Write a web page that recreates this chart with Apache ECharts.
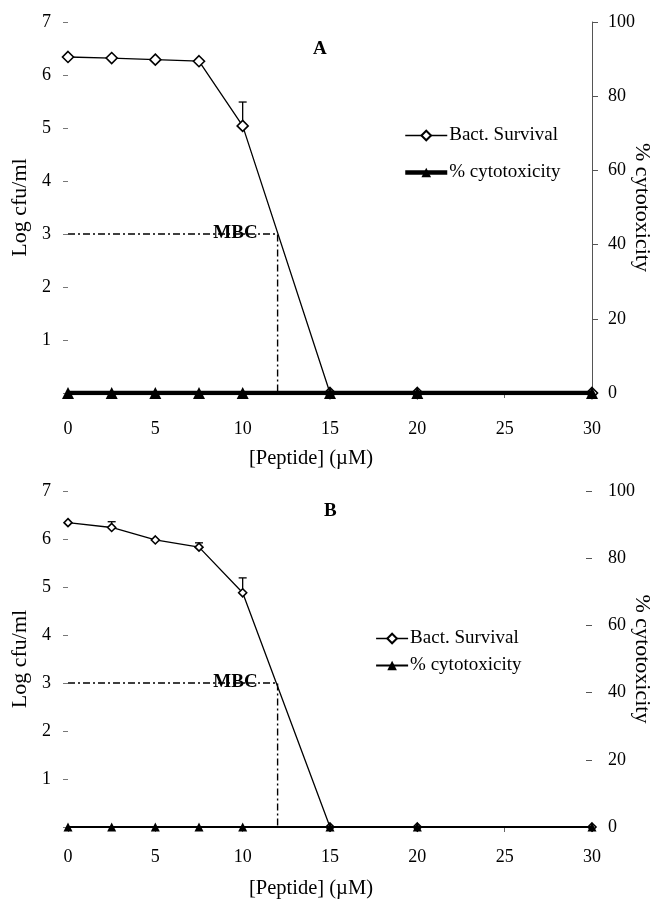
<!DOCTYPE html>
<html>
<head>
<meta charset="utf-8">
<script src="https://cdn.jsdelivr.net/npm/echarts@6/dist/echarts.min.js"></script>
<style>
html,body{margin:0;padding:0;background:#fff;}
#a{position:absolute;left:0;top:0;width:653px;height:470px;}
#b{position:absolute;left:0;top:470px;width:653px;height:429px;}
</style>
</head>
<body>
<div id="a"></div>
<div id="b"></div>
<script>
// Shared x values: peptide concentration (µM)
var concA = [0, 2.5, 5, 7.5, 10, 15, 20, 30];
var concB = [0, 2.5, 5, 7.5, 10, 15, 20, 30];
// Panel A: bacterial survival (log cfu/ml) and cytotoxicity (%)
var survivalA = [6.34, 6.32, 6.29, 6.26, 5.04, 0, 0, 0];
var survivalErrA = [0, 0, 0, 0, 0.45, 0, 0, 0];
var cytoA = [0, 0, 0, 0, 0, 0, 0, 0];
// Panel B
var survivalB = [6.34, 6.24, 5.98, 5.83, 4.88, 0, 0, 0];
var survivalErrB = [0, 0.12, 0, 0.09, 0.31, 0, 0, 0];
var cytoB = [0, 0, 0, 0, 0, 0, 0, 0];
// MBC guide
var mbcConc = 12;
var mbcLog = 3;
// Axis ticks
var xTicks = [0, 5, 10, 15, 20, 25, 30];
var leftTicks = [0, 1, 2, 3, 4, 5, 6, 7];
var rightTicks = [0, 20, 40, 60, 80, 100];

var FONT = '"Liberation Serif", "DejaVu Serif", serif';

function pairs(xs, ys) { return xs.map(function (x, i) { return [x, ys[i]]; }); }

function build(cfg) {
  var errData = [];
  cfg.conc.forEach(function (x, i) { if (cfg.err[i] > 0) errData.push([x, cfg.surv[i], cfg.err[i]]); });
  return {
    animation: false,
    backgroundColor: '#fff',
    title: {
      text: cfg.label, left: cfg.titleLeft, top: cfg.titleTop,
      textStyle: { fontFamily: FONT, fontWeight: 'bold', fontSize: 19, color: '#000' }
    },
    legend: {
      orient: 'vertical', left: cfg.legLeft, top: cfg.legTop,
      itemWidth: cfg.legItemW, itemHeight: 12, itemGap: cfg.legGap,
      data: [
        { name: 'Bact. Survival', lineStyle: { width: 1.3, color: '#000' } },
        { name: '% cytotoxicity', lineStyle: { width: cfg.cytoW, color: '#000' } }
      ],
      textStyle: { fontFamily: FONT, fontSize: 19, color: '#000', padding: [0, 0, 0, -3] },
      selectedMode: false
    },
    grid: { left: 68, right: 61, top: cfg.gridTop, height: cfg.gridH, outerBoundsMode: 'none', containLabel: false },
    xAxis: {
      type: 'value', min: 0, max: 30, interval: 5,
      name: '[Peptide] (\u00b5M)', nameLocation: 'middle', nameGap: cfg.xNameGap,
      nameTextStyle: { fontFamily: FONT, fontSize: 20.5, color: '#000', padding: [0, 38, 0, 0] },
      axisLine: { lineStyle: { color: '#000', width: 1 } },
      axisTick: { show: true, length: 5, lineStyle: { color: '#666' } },
      axisLabel: { margin: cfg.xLabelMargin, fontFamily: FONT, fontSize: 18, color: '#000',
        formatter: function (v) { return xTicks.indexOf(v) >= 0 ? String(v) : ''; } },
      splitLine: { show: false }
    },
    yAxis: [{
      type: 'value', min: 0, max: 7, interval: 1, position: 'left',
      name: 'Log cfu/ml', nameLocation: 'middle', nameGap: 37, nameRotate: 90,
      nameTextStyle: { fontFamily: FONT, fontSize: 22, color: '#000' },
      axisLine: { show: false },
      axisTick: { show: true, length: 5, lineStyle: { color: '#777' } },
      axisLabel: { margin: 17, fontFamily: FONT, fontSize: 18, color: '#000',
        formatter: function (v) { return (v === 0 || leftTicks.indexOf(v) < 0) ? '' : String(v); } },
      splitLine: { show: false }
    }, {
      type: 'value', min: 0, max: 100, interval: 20, position: 'right',
      name: '% cytotoxicity', nameLocation: 'middle', nameGap: 39, nameRotate: -90,
      nameMoveOverlap: false,
      nameTextStyle: { fontFamily: FONT, fontSize: 22, color: '#000' },
      axisLine: { show: cfg.rightLine, lineStyle: { color: '#555', width: 1 } },
      axisTick: { show: true, length: 6, inside: !cfg.rightLine, lineStyle: { color: '#555' } },
      axisLabel: { margin: 16, fontFamily: FONT, fontSize: 18, color: '#000',
        formatter: function (v) { return rightTicks.indexOf(v) >= 0 ? String(v) : ''; } },
      splitLine: { show: false }
    }],
    series: [{
      name: 'MBC', type: 'line', yAxisIndex: 0, z: 1,
      data: [[0, mbcLog], [mbcConc, mbcLog], [mbcConc, 0]],
      symbol: 'none',
      lineStyle: { color: '#000', width: 1.4, type: [7, 3, 2, 3] },
      emphasis: { disabled: true }, silent: true
    }, {
      name: 'MBC label', type: 'scatter', yAxisIndex: 0, z: 5,
      data: [[mbcConc, mbcLog]],
      symbol: 'circle', symbolSize: 2,
      itemStyle: { color: 'rgba(0,0,0,0)' },
      label: { show: true, formatter: 'MBC', position: 'left', distance: 19, offset: [0, -1],
        fontFamily: FONT, fontWeight: 'bold', fontSize: 19, color: '#000', opacity: 1 },
      emphasis: { disabled: true }, silent: true
    }, {
      name: 'Bact. Survival', type: 'line', yAxisIndex: 0, z: 3,
      data: pairs(cfg.conc, cfg.surv),
      symbol: 'diamond', symbolSize: cfg.diamond, showSymbol: true,
      itemStyle: { color: '#fff', borderColor: '#000', borderWidth: 1.6 },
      lineStyle: { color: '#000', width: 1.3 },
      emphasis: { disabled: true }
    }, {
      name: 'errors', type: 'custom', yAxisIndex: 0, z: 2,
      data: errData,
      renderItem: function (params, api) {
        var base = api.coord([api.value(0), api.value(1)]);
        var top = api.coord([api.value(0), api.value(1) + api.value(2)]);
        return { type: 'group', children: [
          { type: 'line', shape: { x1: base[0], y1: base[1], x2: top[0], y2: top[1] }, style: { stroke: '#000', lineWidth: 1.3 } },
          { type: 'line', shape: { x1: top[0] - 4, y1: top[1], x2: top[0] + 4, y2: top[1] }, style: { stroke: '#000', lineWidth: 1.3 } }
        ] };
      }
    }, {
      name: '% cytotoxicity', type: 'line', yAxisIndex: 1, z: 4,
      data: pairs(cfg.conc, cfg.cyto),
      symbol: 'triangle', symbolSize: cfg.tri, showSymbol: true,
      itemStyle: { color: '#000' },
      lineStyle: { color: '#000', width: cfg.cytoW },
      emphasis: { disabled: true }
    }]
  };
}

var chartA = echarts.init(document.getElementById('a'));
chartA.setOption(build({
  label: 'A', titleLeft: 308, titleTop: 35,
  legLeft: 398, legTop: 121, legItemW: 42, legGap: 18,
  gridTop: 22, gridH: 371, xNameGap: 55, xLabelMargin: 27,
  rightLine: true, conc: concA, surv: survivalA, err: survivalErrA, cyto: cytoA,
  diamond: 11, tri: 12, cytoW: 4.5
}));

var chartB = echarts.init(document.getElementById('b'));
chartB.setOption(build({
  label: 'B', titleLeft: 319, titleTop: 27,
  legLeft: 370, legTop: 154, legItemW: 32, legGap: 8,
  gridTop: 21, gridH: 336, xNameGap: 51, xLabelMargin: 21,
  rightLine: false, conc: concB, surv: survivalB, err: survivalErrB, cyto: cytoB,
  diamond: 8, tri: 9, cytoW: 2.2
}));
</script>
</body>
</html>
